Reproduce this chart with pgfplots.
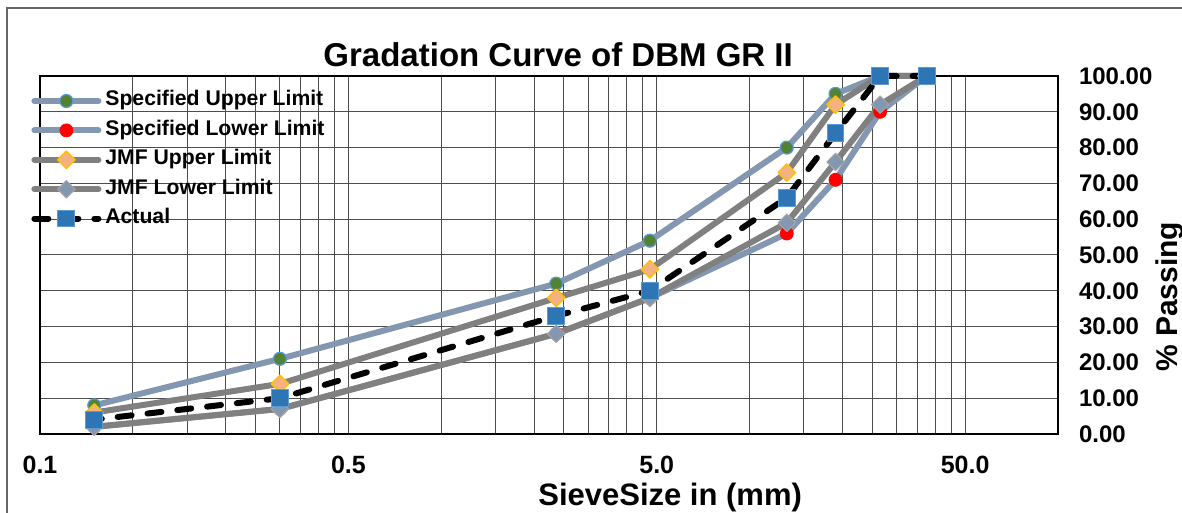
\documentclass[border=0pt]{standalone}
\usepackage{fontspec}
\setmainfont{Liberation Sans}
\usepackage{pgfplots}
\pgfplotsset{compat=1.18}
\definecolor{specline}{HTML}{8497B0}
\definecolor{jmfline}{HTML}{808080}
\definecolor{upgreen}{HTML}{548235}
\definecolor{edgeblue}{HTML}{5B9BD5}
\definecolor{lowred}{HTML}{FF0000}
\definecolor{jmforange}{HTML}{F4B183}
\definecolor{jmfedge}{HTML}{FFC000}
\definecolor{actblue}{HTML}{2E75B6}
\definecolor{gridc}{HTML}{4D4D4D}

\begin{document}
\begin{tikzpicture}
\path[use as bounding box] (0,0) rectangle (591bp,256.5bp);
\draw[black!60, line width=0.6bp] (3.5bp,0) -- (3.5bp,252.5bp) -- (591bp,252.5bp);
\begin{axis}[
  at={(20bp,39.5bp)}, anchor=south west,
  scale only axis, width=509bp, height=179bp,
  xmode=log, xmin=0.05, xmax=100, ymin=0, ymax=100,
  clip=false,
  xtick={0.05,0.5,5,50}, xticklabels={0.1,0.5,5.0,50.0},
  minor xtick={0.1,0.15,0.2,0.25,0.3,0.35,0.4,0.45,
               1,1.5,2,2.5,3,3.5,4,4.5,
               10,15,20,25,30,35,40,45,100},
  ytick={0,10,...,100},
  yticklabel pos=right,
  tick style={draw=none},
  grid=both,
  major grid style={gridc, line width=0.5bp},
  minor grid style={gridc, line width=0.5bp},
  axis line style={black, line width=1.2bp},
  xticklabel style={font=\fontsize{12.5bp}{14bp}\selectfont\bfseries, yshift=-7.5bp},
  yticklabel style={font=\fontsize{12bp}{14bp}\selectfont\bfseries, anchor=west, xshift=7bp,
    /pgf/number format/.cd, fixed, fixed zerofill, precision=2, assume math mode=true},
  title={Gradation Curve of DBM GR II},
  title style={at={(0.509,0.992)}, anchor=base, font=\fontsize{16.5bp}{18bp}\selectfont\bfseries},
  xlabel={SieveSize in (mm)},
  xlabel style={at={(0.619,-0.2)}, anchor=base, font=\fontsize{15.5bp}{17bp}\selectfont\bfseries},
  ylabel={\% Passing},
  ylabel style={at={(1.117,0.383)}, anchor=base, font=\fontsize{15bp}{17bp}\selectfont\bfseries},
  legend image code/.code={\draw[#1, mark repeat=2, mark phase=2] plot coordinates {(0bp,0bp) (16bp,0bp) (32bp,0bp)};
    \path (34bp,0bp);},
  legend cell align=left,
  legend style={draw=none, fill=none, inner sep=0pt,
    at={(0,1)}, anchor=north west, xshift=-4.5bp, yshift=-7.3bp,
    font=\fontsize{10.6bp}{12bp}\selectfont\bfseries,
    row sep=4.7bp,
    nodes={inner sep=0pt, text height=7.5bp, text depth=2.5bp}},
  every axis plot/.append style={line cap=round, line join=round},
]
\addplot[specline, line width=3bp, mark=*, mark size=3.25bp,
  mark options={solid, fill=upgreen, draw=edgeblue, line width=0.6bp}]
  coordinates {(37.5,100) (26.5,100) (19,95) (13.2,80) (4.75,54) (2.36,42) (0.3,21) (0.075,8)};
\addplot[specline, line width=3bp, mark=*, mark size=3.25bp,
  mark options={solid, fill=lowred, draw=lowred, line width=0.4bp}]
  coordinates {(37.5,100) (26.5,90) (19,71) (13.2,56) (4.75,38) (2.36,28) (0.3,7) (0.075,2)};
\addplot[jmfline, line width=3bp, mark=square*, mark size=3.1bp,
  mark options={solid, rotate=45, fill=jmforange, draw=jmfedge, line width=0.7bp}]
  coordinates {(37.5,100) (26.5,100) (19,92) (13.2,73) (4.75,46) (2.36,38) (0.3,14) (0.075,6)};
\addplot[jmfline, line width=3bp, mark=square*, mark size=3.1bp,
  mark options={solid, rotate=45, fill=specline, draw=black!35, line width=0.5bp}]
  coordinates {(37.5,100) (26.5,92) (19,76) (13.2,59) (4.75,38) (2.36,28) (0.3,7) (0.075,2)};
\addplot[black, line width=3bp, dash pattern=on 7bp off 8bp, mark=square*, mark size=4.2bp,
  mark options={solid, fill=actblue, draw=edgeblue, line width=0.5bp}]
  coordinates {(37.5,100) (26.5,100) (19,84) (13.2,66) (4.75,40) (2.36,33) (0.3,10) (0.075,4)};
\legend{Specified Upper Limit, Specified Lower Limit, JMF Upper Limit, JMF Lower Limit, Actual}
\end{axis}
\end{tikzpicture}
\end{document}
